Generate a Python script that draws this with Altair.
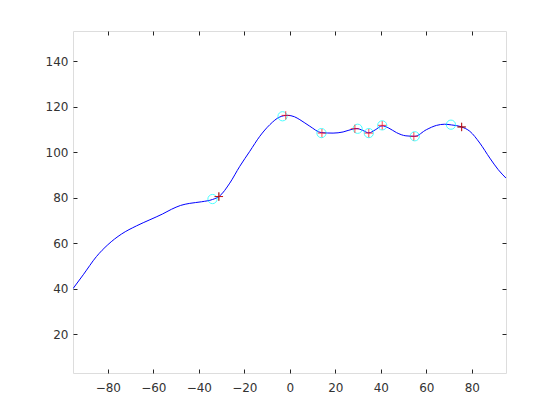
import altair as alt
import pandas as pd

# ---- data ----
line_x = [-95.3, -90.8, -85.0, -80.0, -74.0, -67.4, -61.5, -56.0, -52.0, -48.0, -44.0, -38.8, -34.0,
          -31.0, -26.4, -22.0, -17.6, -13.2, -8.8, -4.4, -1.0, 2.0, 4.4, 8.8, 13.9, 19.0,
          23.4, 27.8, 29.5, 32.0, 34.7, 37.5, 40.6, 43.5, 46.9, 51.0, 54.9, 60.0, 64.5,
          68.0, 71.0, 75.5, 79.1, 83.5, 87.9, 91.6, 95.0]
line_y = [40.0, 46.1, 54.1, 59.3, 64.0, 67.6, 70.3, 72.8, 74.9, 76.6, 77.5, 78.2, 79.2,
          80.6, 86.4, 93.8, 100.4, 107.0, 112.1, 115.5, 116.2, 115.6, 114.3, 111.4, 108.6, 108.4,
          108.9, 110.2, 110.4, 109.6, 108.5, 109.8, 111.6, 110.6, 108.6, 107.2, 107.0, 109.9, 111.8,
          112.3, 112.0, 111.1, 109.2, 104.0, 97.4, 92.3, 88.6]

circle_x = [-34.0, -3.2, 13.9, 29.8, 34.7, 40.6, 54.9, 70.8]
circle_y = [79.4, 115.8, 108.4, 110.3, 108.4, 111.8, 107.0, 112.1]

plus_x = [-31.2, -1.8, 14.1, 28.6, 34.7, 40.6, 54.5, 75.5]
plus_y = [80.5, 116.2, 108.4, 110.3, 108.4, 111.8, 107.0, 111.1]

black_x = [-31.2, 75.5]
black_y = [80.5, 111.1]

x_ticks = [-80, -60, -40, -20, 0, 20, 40, 60, 80]
y_ticks = [20, 40, 60, 80, 100, 120, 140]

# ---- chart ----
W, H = 433, 342
FONT = "DejaVu Sans"
INK = "#262626"

line_df = pd.DataFrame({"x": line_x, "y": line_y})
circ_df = pd.DataFrame({"x": circle_x, "y": circle_y})
plus_df = pd.DataFrame({"x": plus_x, "y": plus_y})
black_df = pd.DataFrame({"x": black_x, "y": black_y})

xs = alt.Scale(domain=[-95.3, 95.0], nice=False, zero=False)
ys = alt.Scale(domain=[2.9, 153.3], nice=False, zero=False)


def label_axis(orient, values, pad):
    return alt.Axis(orient=orient, values=values, ticks=False, domain=False, grid=False,
                    labelFont=FONT, labelFontSize=12, labelColor="#333333", labelPadding=pad,
                    title=None)


def tick_axis(orient, values, offset):
    return alt.Axis(orient=orient, values=values, ticks=True, tickSize=4, tickColor=INK,
                    tickWidth=1, domain=False, grid=False, labels=False, offset=offset,
                    title=None)


PLUS = "M-1,0H1M0,-1V1"

line = alt.Chart(line_df).mark_line(color="#0000FF", strokeWidth=1, interpolate="monotone",
                                    clip=True).encode(
    x=alt.X("x:Q", scale=xs, axis=label_axis("bottom", x_ticks, 9)),
    y=alt.Y("y:Q", scale=ys, axis=label_axis("left", y_ticks, 5)),
    order=alt.Order("x:Q"),
)

circles = alt.Chart(circ_df).mark_point(shape="circle", filled=False, color="#00FFFF",
                                        size=85, strokeWidth=1).encode(
    x=alt.X("x:Q", scale=xs, axis=tick_axis("top", x_ticks, -H)),
    y=alt.Y("y:Q", scale=ys, axis=tick_axis("right", y_ticks, -W)),
)

blacks = alt.Chart(black_df).mark_point(shape=PLUS, filled=False, color="#000000",
                                        size=70, strokeWidth=1).encode(
    x=alt.X("x:Q", scale=xs, axis=tick_axis("bottom", x_ticks, -H)),
    y=alt.Y("y:Q", scale=ys, axis=tick_axis("left", y_ticks, -W)),
)

pluses = alt.Chart(plus_df).mark_point(shape=PLUS, filled=False, color="#FF0000",
                                       size=70, strokeWidth=1).encode(
    x=alt.X("x:Q", scale=xs, axis=None),
    y=alt.Y("y:Q", scale=ys, axis=None),
)

chart = alt.layer(line, circles, blacks, pluses).resolve_axis(
    x="independent", y="independent"
).properties(
    width=W, height=H,
    autosize=alt.AutoSizeParams(type="none"),
    padding={"left": 65, "top": 23, "right": 46, "bottom": 39},
).configure_view(
    stroke=INK, strokeWidth=1
).configure(background="white")

chart.save("out.html", embed_options={"renderer": "svg", "actions": False})
